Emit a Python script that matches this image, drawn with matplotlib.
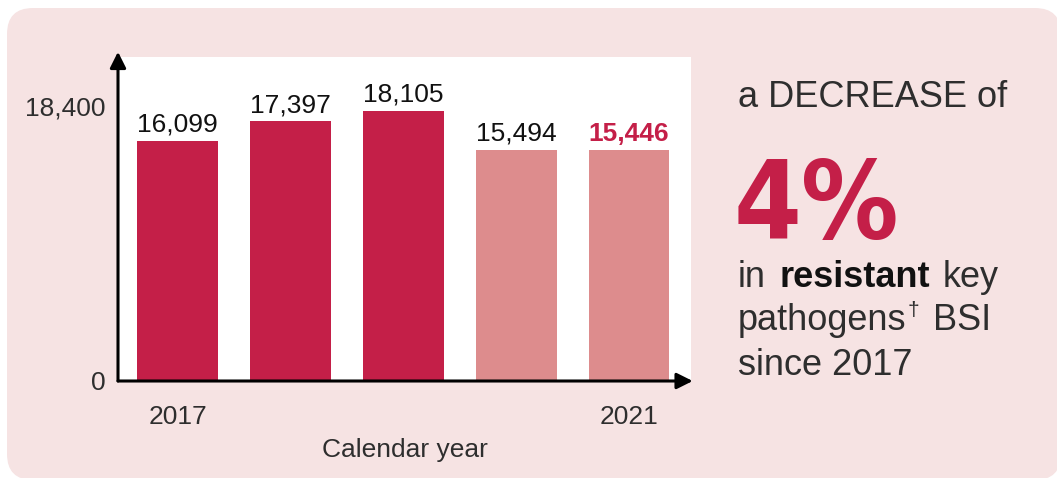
import matplotlib.pyplot as plt
from matplotlib.patches import FancyBboxPatch

plt.rcParams['font.family'] = ['Liberation Sans', 'DejaVu Sans']

# resistant key pathogen BSI counts per calendar year
years = ['2017', '2018', '2019', '2020', '2021']
counts = [16099, 17397, 18105, 15494, 15446]
bar_colors = ['#c41f48', '#c41f48', '#c41f48', '#dd8c8d', '#dd8c8d']
label_colors = ['#111111', '#111111', '#111111', '#111111', '#c41f48']
label_weights = ['normal', 'normal', 'normal', 'normal', 'bold']
ytick_vals = [0, 18400]

RED = '#c41f48'
GREY = '#2e2e2e'

fig = plt.figure(figsize=(10.57, 4.78), dpi=100)
fig.patch.set_facecolor('white')

# pixel-space layer for the pink card and the side text
bg = fig.add_axes([0, 0, 1, 1], zorder=0)
bg.set_xlim(0, 1057)
bg.set_ylim(478, 0)
bg.axis('off')
card = FancyBboxPatch((7, 8), 1054, 472, boxstyle='round,pad=0,rounding_size=26',
                      facecolor='#f6e3e3', edgecolor='none')
bg.add_patch(card)

ax = fig.add_axes([118 / 1057, 97 / 478, 573 / 1057, 324 / 478], zorder=1)
ax.set_facecolor('white')
x = list(range(len(years)))
ax.bar(x, counts, width=0.717, color=bar_colors, zorder=2)
for i, v in enumerate(counts):
    ax.annotate(f'{v:,}', (i, v), xytext=(0, 6.5), textcoords='offset points',
                ha='center', va='baseline', fontsize=19,
                color=label_colors[i], fontweight=label_weights[i])

ax.set_xlim(-0.53, 4.55)
ax.set_ylim(0, 21700)
for s in ax.spines.values():
    s.set_visible(False)

ax.set_yticks(ytick_vals)
ax.set_yticklabels([f'{v:,}' for v in ytick_vals])
ax.set_xticks([0, 4])
ax.set_xticklabels([years[0], years[-1]])
ax.tick_params(axis='y', length=0, pad=9, labelsize=19, labelcolor=GREY)
ax.tick_params(axis='x', length=0, pad=17, labelsize=19, labelcolor=GREY)
ax.set_xlabel('Calendar year', fontsize=19, color=GREY, labelpad=7)

# axis arrows
arrow = dict(arrowstyle='-|>', color='black', lw=2.2, mutation_scale=24,
             shrinkA=0, shrinkB=0)
ax.annotate('', xy=(0, 1.016), xytext=(0, 0), xycoords='axes fraction',
            arrowprops=arrow, annotation_clip=False)
ax.annotate('', xy=(1.003, 0), xytext=(0, 0), xycoords='axes fraction',
            arrowprops=arrow, annotation_clip=False)

# side text
big = dict(fontsize=26, color=GREY, va='baseline', transform=bg.transData)
bg.text(738, 107, 'a DECREASE of', **big)
bg.text(734, 238, '4%', fontsize=78, color=RED, va='baseline',
        family='DejaVu Sans', stretch='condensed', fontweight='bold')

renderer = fig.canvas.get_renderer()


def run_text(x0, y, parts):
    xpos = x0
    for txt, kw, gap in parts:
        t = bg.text(xpos, y, txt, **{**big, **kw})
        w = t.get_window_extent(renderer).width
        xpos += w + gap


run_text(738, 287, [('in', {}, 13), ('resistant', {'fontweight': 'bold', 'color': '#111111'}, 13),
                    ('key', {}, 0)])
run_text(738, 330, [('pathogens', {}, 1), ('†', {'fontsize': 15, 'va': 'baseline'}, 14),
                    ('BSI', {}, 0)])
bg.texts[-2].set_y(316)
bg.text(738, 375, 'since 2017', **big)

fig.savefig('out.png', dpi=100, facecolor=fig.get_facecolor())
